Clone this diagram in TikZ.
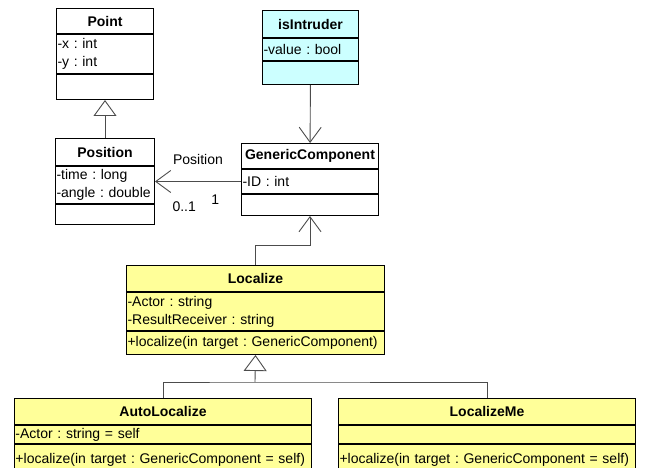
\documentclass[tikz,border=0pt]{standalone}
\usepackage{fontspec}
\setmainfont{Liberation Sans}
\usepackage{tikz}
\usetikzlibrary{arrows.meta}
\definecolor{jaune}{HTML}{FFFF99}
\definecolor{cyanclair}{HTML}{CCFFFF}
\frenchspacing
\tikzstyle{classe}=[draw, line width=1pt, anchor=north west, inner xsep=1pt, inner ysep=0pt,
        align=center, font=\fontsize{14}{18}\selectfont\bfseries]
\tikzstyle{membres}=[draw, line width=1pt, anchor=north west, inner xsep=1pt, inner ysep=0pt,
        align=left, font=\fontsize{14}{18}\selectfont]
\tikzstyle{etiq}=[font=\fontsize{14}{18}\selectfont, inner sep=1pt]
\tikzstyle{suite}=[draw=black!70, line width=0.9pt]
\tikzstyle{assoc}=[suite, -{Straight Barb[length=15pt, width=22pt]}]
\tikzstyle{herit}=[suite, -{Triangle[open, length=16pt, width=23pt]}]

\begin{document}
\begin{tikzpicture}[x=1pt,y=-1pt]
\useasboundingbox (0,0) rectangle (646,468);
%Point et Position
\node[classe, text width=95pt, minimum height=25pt] (point) at (56,8) {Point};
\node[membres, text width=95pt, minimum height=39pt] (pointatt) at (point.south west) {-x : int\\-y : int};
\node[membres, text width=95pt, minimum height=25pt] (pointop) at (pointatt.south west) {};
\node[classe, text width=97pt, minimum height=27pt] (pos) at (55,138) {Position};
\node[membres, text width=97pt, minimum height=37pt] (posatt) at (pos.south west) {-time : long\\-angle : double};
\node[membres, text width=97pt, minimum height=20pt] (posop) at (posatt.south west) {};
%isIntruder et GenericComponent
\node[classe, fill=cyanclair, text width=94pt, minimum height=27pt] (intrus) at (262,10) {isIntruder};
\node[membres, fill=cyanclair, text width=94pt, minimum height=22pt] (intrusatt) at (intrus.south west) {-value : bool};
\node[membres, fill=cyanclair, text width=94pt, minimum height=23pt] (intrusop) at (intrusatt.south west) {};
\node[classe, text width=135pt, minimum height=25pt] (gc) at (241,143) {GenericComponent};
\node[membres, text width=135pt, minimum height=24pt] (gcatt) at (gc.south west) {-ID : int};
\node[membres, text width=135pt, minimum height=21pt] (gcop) at (gcatt.south west) {};
%Localize
\node[classe, fill=jaune, text width=256pt, minimum height=26pt] (loc) at (126,265) {Localize};
\node[membres, fill=jaune, text width=256pt, minimum height=38pt] (locatt) at (loc.south west) {-Actor : string\\-ResultReceiver : string};
\node[membres, fill=jaune, text width=256pt, minimum height=23pt] (locop) at (locatt.south west) {+localize(in target : GenericComponent)};
%AutoLocalize et LocalizeMe
\node[classe, fill=jaune, text width=295pt, minimum height=26pt] (auto) at (14,398) {AutoLocalize};
\node[membres, fill=jaune, text width=295pt, minimum height=18pt] (autoatt) at (auto.south west) {-Actor : string = self};
\node[membres, fill=jaune, text width=295pt, minimum height=30pt] (autoop) at (autoatt.south west) {+localize(in target : GenericComponent = self)};
\node[classe, fill=jaune, text width=295pt, minimum height=26pt] (lme) at (338,398) {LocalizeMe};
\node[membres, fill=jaune, text width=295pt, minimum height=18pt] (lmeatt) at (lme.south west) {};
\node[membres, fill=jaune, text width=295pt, minimum height=30pt] (lmeop) at (lmeatt.south west) {+localize(in target : GenericComponent = self)};
\coordinate (jonction) at (255,382);
%Placement des fleches
\draw[herit] (pos) -- (pos |- pointop.south);
\draw[assoc] (intrusop) -- (gc);
\draw[assoc] (gcatt.west) -- (gcatt.west -| posatt.east)
  node[etiq, pos=0.5, above=15pt] {Position}
  node[etiq, pos=0.3, below=12pt] {1}
  node[etiq, pos=0.66, below=19pt] {0..1};
\draw[assoc] (loc.north) -- ++(0,-20) -| (gcop.south);
\draw[suite] (auto.north) |- (jonction) -| (lme.north);
\draw[herit] (jonction) -- (locop.south);
\end{tikzpicture}
\end{document}
